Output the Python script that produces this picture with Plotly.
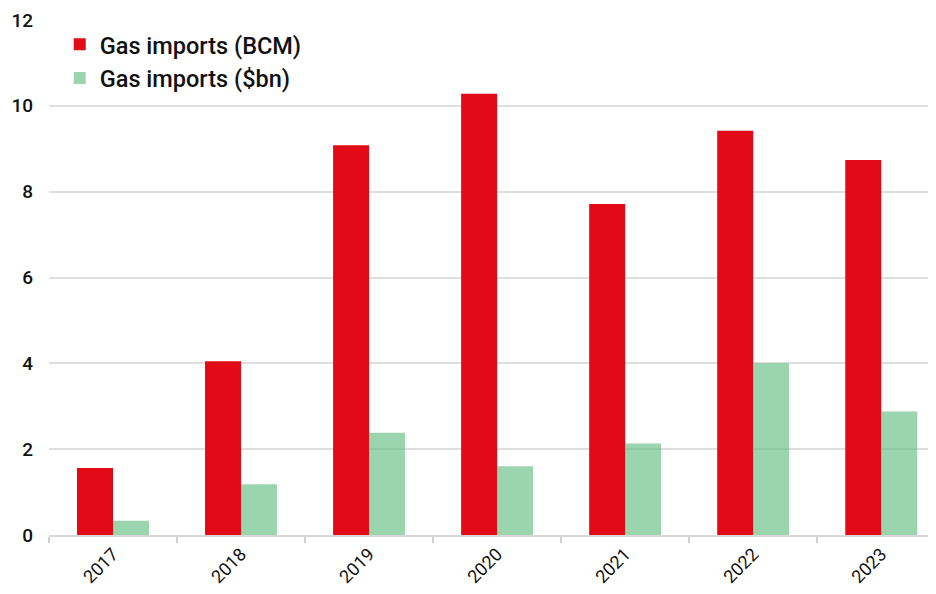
import plotly.graph_objects as go

years = ["2017", "2018", "2019", "2020", "2021", "2022", "2023"]
bcm = [1.56, 4.05, 9.08, 10.28, 7.71, 9.42, 8.74]
usd_bn = [0.33, 1.18, 2.38, 1.60, 2.13, 4.00, 2.88]

fig = go.Figure()
fig.add_trace(go.Bar(x=years, y=bcm, name="Gas imports (BCM)",
                     marker=dict(color="#E30A18", line=dict(width=0))))
fig.add_trace(go.Bar(x=years, y=usd_bn, name="Gas imports ($bn)",
                     marker=dict(color="rgba(100,190,130,0.65)", line=dict(width=0))))

fig.update_layout(
    width=936, height=594,
    margin=dict(l=41, r=0, t=12, b=67),
    paper_bgcolor="white", plot_bgcolor="white",
    barmode="group", bargap=0.4375, bargroupgap=0,
    font=dict(family="Roboto", color="#111"),
    legend=dict(x=0.012, y=0.995, xanchor="left", yanchor="top",
                font=dict(size=23.5, family="Roboto", weight=500, color="#111"),
                bgcolor="rgba(255,255,255,0)", tracegroupgap=0,
                itemwidth=30),
    showlegend=True,
)
fig.update_xaxes(
    type="category", range=[-0.5, 6.49], automargin=False,
    tickson="boundaries", ticks="outside", ticklen=6, tickcolor="#d0d0d0", tickwidth=1.5,
    showline=True, linecolor="#d8d8d8", linewidth=1.5,
    showgrid=False, tickangle=-45,
    tickfont=dict(size=18, family="Roboto", color="#111"),
)
fig.update_yaxes(
    range=[0, 12], dtick=2, showgrid=True, gridcolor="#dedede", gridwidth=1.5,
    zeroline=False, ticks="", ticklabelstandoff=15, automargin=False,
    tickfont=dict(size=19, family="Roboto", weight=500, color="#111"),
)

fig.write_html("out.html")
